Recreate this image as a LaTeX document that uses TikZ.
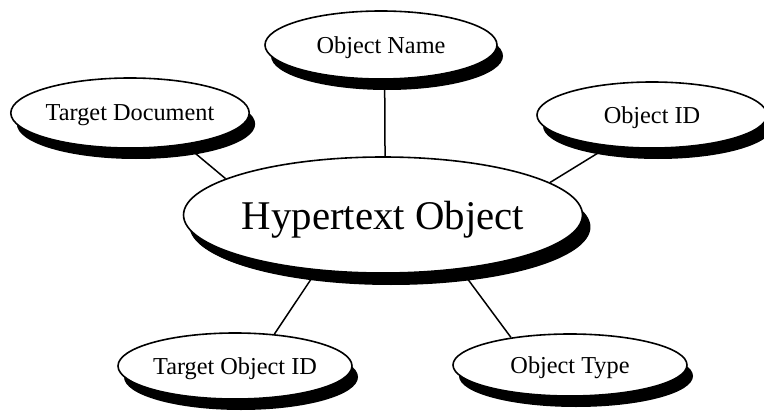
\documentclass[tikz,border=0pt]{standalone}
\usepackage{fontspec}
\setmainfont{Liberation Serif}
\usetikzlibrary{shapes.geometric,shadows}

\tikzset{
  attr/.style={ellipse, draw, line width=1.6pt, fill=white, inner sep=0pt,
    minimum width=232pt, minimum height=68pt, text depth=0pt,
    font=\fontsize{24.3}{29}\selectfont,
    drop shadow={shadow xshift=6pt, shadow yshift=-11pt, fill=black, opacity=1}},
  hub/.style={attr, minimum width=390pt, minimum height=116pt,
    font=\fontsize{40.8}{48}\selectfont,
    drop shadow={shadow xshift=8pt, shadow yshift=-12pt, fill=black, opacity=1}},
  link/.style={line width=1.5pt}
}

\begin{document}
\begin{tikzpicture}[x=1pt, y=-1pt]
  \useasboundingbox (0,0) rectangle (764,412);

  %%%%% nodes %%%%%
  \node[hub] (hyp) at (383,215) {Hypertext Object};
  \node[attr] (on) at (381,45) {Object Name};
  \node[attr, minimum width=234pt, minimum height=70pt] (td) at (130,113) {Target Document};
  \node[attr, minimum width=230pt, minimum height=66pt] (oid) at (652,115) {Object ID};
  \node[attr, minimum width=234pt, minimum height=66pt] (toid) at (235,366) {Target Object ID};
  \node[attr, minimum width=234pt, minimum height=62pt] (ot) at (570,365) {Object Type};

  %%%%% links %%%%%
  \draw[link] (on.-84) -- (hyp.88);
  \draw[link] (td.-30) -- (hyp.167);
  \draw[link] (oid.216) -- (hyp.11);
  \draw[link] (toid.39) -- (hyp.220);
  \draw[link] (ot.155) -- (hyp.-35);
\end{tikzpicture}
\end{document}
